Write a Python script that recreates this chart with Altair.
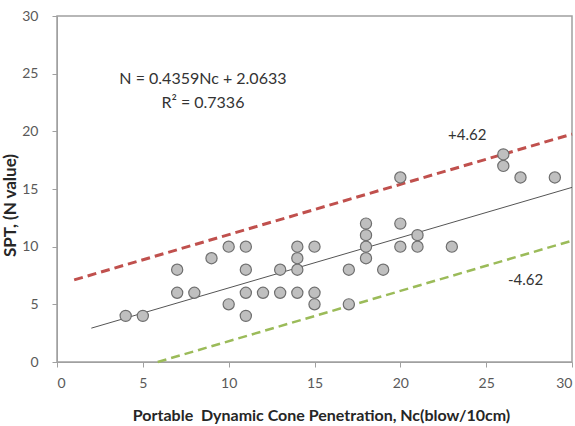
import altair as alt
import pandas as pd

# Measured pairs: portable DCP blow count (Nc) vs SPT N value
nc = [4, 5, 7, 7, 8, 9, 10, 10, 11, 11, 11, 11, 12, 13, 13, 14, 14, 14, 14,
      15, 15, 15, 17, 17, 18, 18, 18, 18, 19, 20, 20, 20, 21, 21, 23, 26, 26, 27, 29]
n_spt = [4, 4, 8, 6, 6, 9, 10, 5, 10, 8, 6, 4, 6, 8, 6, 10, 9, 8, 6,
         10, 6, 5, 8, 5, 12, 11, 10, 9, 8, 16, 12, 10, 11, 10, 10, 18, 17, 16, 16]

# Fitted relation and the +/- band
slope = 0.4359
intercept = 2.0633
band = 4.62
r2 = 0.7336

points = pd.DataFrame({"nc": nc, "n": n_spt})

def line_df(x0, x1, offset):
    return pd.DataFrame({
        "nc": [x0, x1],
        "n": [slope * x0 + intercept + offset, slope * x1 + intercept + offset],
    })

trend = line_df(2, 30, 0)
upper = line_df(1, 30, band)
lower = line_df((band - intercept) / slope, 30, -band)

xs = alt.Scale(domain=[0, 30], nice=False, zero=False)
ys = alt.Scale(domain=[0, 30], nice=False, zero=False)

x_enc = alt.X("nc:Q", scale=xs,
              axis=alt.Axis(values=[0, 5, 10, 15, 20, 25, 30],
                            title="Portable\u00a0\u00a0Dynamic Cone Penetration, Nc(blow/10cm)",
                            titleFontSize=16, titlePadding=17, titleX=264))
y_enc = alt.Y("n:Q", scale=ys,
              axis=alt.Axis(values=[0, 5, 10, 15, 20, 25, 30],
                            title="SPT, (N value)", titleFontSize=17,
                            titleX=-47, titleY=189, titleAngle=-90,
                            titleAlign="center", titleBaseline="middle"))

base_pts = alt.Chart(points).mark_circle(
    size=125, color="#BFBFBF", opacity=1, stroke="#6E6E6E", strokeWidth=1.2
).encode(x=x_enc, y=y_enc)

trend_line = alt.Chart(trend).mark_line(color="#555555", strokeWidth=1).encode(x="nc:Q", y="n:Q")
upper_line = alt.Chart(upper).mark_line(color="#C0504D", strokeWidth=3, strokeDash=[9, 5]).encode(x="nc:Q", y="n:Q")
lower_line = alt.Chart(lower).mark_line(color="#9BBB59", strokeWidth=2.5, strokeDash=[9, 5]).encode(x="nc:Q", y="n:Q")

labels = pd.DataFrame({
    "nc": [8.5, 8.5, 23.9, 27.3],
    "n": [24.5, 22.5, 19.7, 7.1],
    "txt": [f"N = {slope}Nc + {intercept}", f"R\u00b2 = {r2}", f"+{band}", f"-{band}"],
    "fs": [16, 16, 15, 15],
})
text = alt.Chart(labels).mark_text(
    font="Lato", color="#333333", align="center", baseline="middle"
).encode(x="nc:Q", y="n:Q", text="txt:N",
         size=alt.Size("fs:Q", scale=None, legend=None))

chart = alt.layer(upper_line, lower_line, trend_line, base_pts, text).properties(
    width=515, height=346,
    autosize=alt.AutoSizeParams(type="none"),
    padding={"left": 57, "top": 16, "right": 3, "bottom": 64},
).configure_view(
    stroke="#A0A0A0", strokeWidth=1.5
).configure_axis(
    grid=False,
    domainColor="#A0A0A0",
    tickColor="#A0A0A0",
    tickSize=5,
    labelFont="Lato",
    labelFontSize=14,
    labelColor="#595959",
    titleFont="Lato",
    titleFontWeight="bold",
    titleColor="#262626",
).configure_axisY(labelPadding=14).configure_axisX(labelPadding=9)

chart.save("out.html", embed_options={"renderer": "svg", "actions": False})
